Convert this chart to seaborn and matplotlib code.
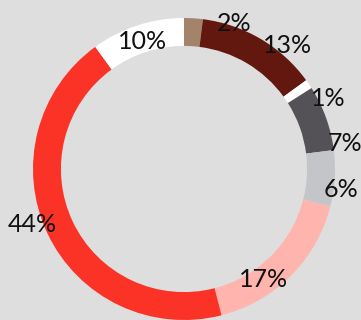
import matplotlib
matplotlib.use("Agg")
import matplotlib.pyplot as plt
import numpy as np
import seaborn as sns

# Share of each segment, clockwise from twelve o'clock
labels = ["2%", "13%", "1%", "7%", "6%", "17%", "44%", "10%"]
shares = [2, 13, 1, 7, 6, 17, 44, 10]
colors = ["#a3846b", "#63180f", "#ffffff", "#545256",
          "#c4c5c8", "#ffb4ad", "#fb3327", "#ffffff"]

# Label placement: angular nudge (degrees) from wedge centre and radius factor
label_nudge = [-15.4, -9.6, -8.1, -10.8, -3.8, -9.0, -5.2, 0.0]
label_radius = [1.019, 1.067, 1.062, 1.080, 1.048, 0.901, 1.067, 0.888]

bg = "#dedede"
sns.set_theme(style="white", rc={"axes.facecolor": bg, "figure.facecolor": bg})
plt.rcParams["font.family"] = ["Liberation Sans Narrow", "Lato", "DejaVu Sans"]

fig = plt.figure(figsize=(3.61, 3.20), dpi=100)
ax = fig.add_axes([0, 0, 1, 1])
ax.set_facecolor(bg)

wedges, _ = ax.pie(
    shares, colors=colors, startangle=90, counterclock=False,
    radius=1.0, wedgeprops=dict(width=0.185, linewidth=0),
)

for w, lab, nudge, rf in zip(wedges, labels, label_nudge, label_radius):
    mid = np.deg2rad((w.theta1 + w.theta2) / 2 + nudge)
    ax.text(rf * np.cos(mid), rf * np.sin(mid), lab, ha="center", va="center",
            fontsize=18, fontweight="normal", color="#111111")

ax.set_xlim(-184 / 151, (361 - 184) / 151)
ax.set_ylim(-(320 - 169) / 151, 169 / 151)
ax.set_aspect("equal", adjustable="box")
ax.axis("off")

fig.savefig("out.png", dpi=100, facecolor=bg)
